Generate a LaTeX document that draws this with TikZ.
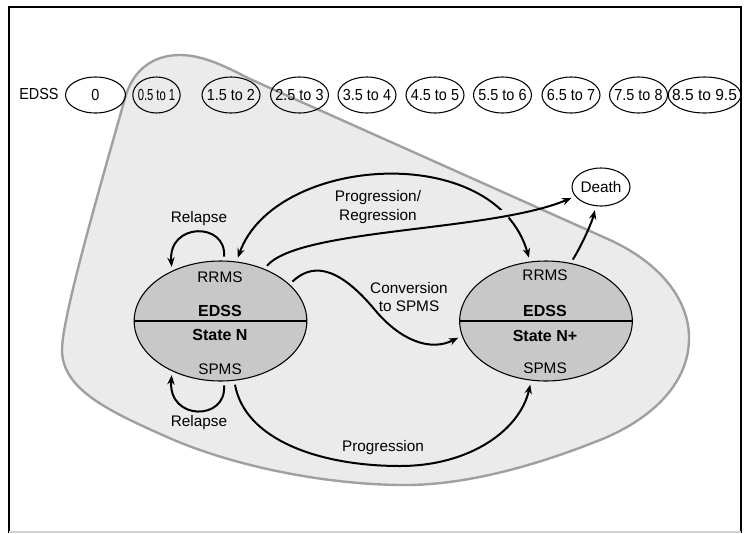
\documentclass[tikz,border=0pt]{standalone}
\usepackage{fontspec}
\usepackage{graphicx}
\setmainfont{Liberation Sans}
\newfontfamily\rowfont[FakeStretch=0.9]{Liberation Sans}
\usetikzlibrary{shapes.geometric,arrows.meta,intersections}
\definecolor{blobfill}{HTML}{EBEBEB}
\definecolor{blobline}{HTML}{A0A0A0}
\definecolor{statefill}{HTML}{C8C8C8}
\newcommand{\zw}[1]{\makebox[0pt]{#1}}
\tikzset{
	>={Stealth[length=7pt,width=5.5pt]},
	edss/.style={ellipse, draw=black, line width=0.8pt, minimum height=27pt, inner sep=0pt, font=\rowfont\fontsize{12}{14}\selectfont},
	state/.style={ellipse, draw=black, line width=0.8pt, fill=statefill, minimum width=129.5pt, minimum height=90pt, inner sep=0pt},
	lbl/.style={font=\fontsize{11.5}{14}\selectfont, align=center},
	bold/.style={font=\bfseries\fontsize{12}{14}\selectfont},
	conn/.style={->, line width=1.5pt, shorten <=3pt, shorten >=3pt},
}
\begin{document}
\begin{tikzpicture}[x=0.75pt, y=-0.75pt]
		\useasboundingbox (0, 0) rectangle (747, 533);
		\draw[line width=1.2pt] (9, 533) -- (9, 7) -- (741, 7) -- (741, 533);
		\draw[gray!35, line width=1pt] (9, 532) -- (741, 532);
		% grey region
		\draw[blobline, line width=1.8pt, fill=blobfill] (125, 98) .. controls (132, 73) and (150, 55) .. (180, 55)
			.. controls (205, 55) and (230, 69) .. (250, 79) -- (610, 240)
			.. controls (660, 263) and (690, 300) .. (689, 340)
			.. controls (688, 385) and (650, 420) .. (600, 440)
			.. controls (530, 468) and (460, 486) .. (400, 485)
			.. controls (320, 484) and (230, 465) .. (167, 437)
			.. controls (111, 412) and (62, 390) .. (62, 350)
			.. controls (62, 315) and (105, 170) .. cycle;
		% EDSS row
		\node[font=\rowfont\fontsize{12}{14}\selectfont] (edsslbl) at (39, 94) {EDSS};
		\node[edss, minimum width=45pt] (e0) at (95.5, 95) {\zw{0}};
		\node[edss, minimum width=35.5pt] (e1) at (156.5, 95) {\zw{\scalebox{0.78}[1]{0.5 to 1}}};
		\node[edss, minimum width=43.5pt] (e2) at (231, 95) {\zw{1.5 to 2}};
		\node[edss, minimum width=43.5pt] (e3) at (299.5, 95) {\zw{2.5 to 3}};
		\node[edss, minimum width=43.5pt] (e4) at (367, 95) {\zw{3.5 to 4}};
		\node[edss, minimum width=43.5pt] (e5) at (435, 95) {\zw{4.5 to 5}};
		\node[edss, minimum width=43.5pt] (e6) at (502.5, 95) {\zw{5.5 to 6}};
		\node[edss, minimum width=43.5pt] (e7) at (571, 95) {\zw{6.5 to 7}};
		\node[edss, minimum width=43.5pt] (e8) at (638.5, 95) {\zw{7.5 to 8}};
		\node[edss, minimum width=54.5pt] (e9) at (704.5, 95) {\zw{\scalebox{1.08}[1]{8.5 to 9.5}}};
		% states
		\node[state] (stN) at (220.5, 321) {};
		\node[state] (stM) at (546, 321) {};
		\draw[line width=0.8pt] (stN.west) -- (stN.east);
		\draw[line width=0.8pt] (stM.west) -- (stM.east);
		\node[lbl] (rrN) at (220, 277) {RRMS};
		\node[bold] (edN) at (220, 311) {EDSS};
		\node[bold] (snN) at (220, 335) {State N};
		\node[lbl] (spN) at (220, 369) {SPMS};
		\node[lbl] (rrM) at (545, 275) {RRMS};
		\node[bold] (edM) at (545, 311) {EDSS};
		\node[bold] (snM) at (545, 336) {State N+};
		\node[lbl] (spM) at (545, 368) {SPMS};
		\node[ellipse, draw=black, line width=0.8pt, minimum width=43.5pt, minimum height=28.5pt, inner sep=0pt, font=\fontsize{11.5}{14}\selectfont] (death) at (601, 187) {Death};
		% transitions
		\draw[conn] (stN.87) .. controls (227, 222) and (168, 222) .. (stN.134);
		\draw[conn] (stN.-87) .. controls (227, 421) and (168, 421) .. (stN.-134);
		\draw[conn, <->, name path=progreg] (stN.75) .. controls (275, 155) and (495, 140) .. (stM.105);
		\path[name path=todeath] (stN.50) .. controls (300, 228) and (490, 232) .. (death.200);
		\fill[blobfill, name intersections={of=progreg and todeath, by=cross}] (cross) circle (6);
		\draw[conn] (stN.50) .. controls (300, 228) and (490, 232) .. (death.200);
		\draw[conn] (stN.28) .. controls (310, 265) and (335, 262) .. (375, 310) .. controls (400, 340) and (430, 352) .. (stM.190);
		\draw[conn] (stM.67) .. controls (582, 245) and (592, 222) .. (death.255);
		\draw[conn] (stN.-77) .. controls (245, 440) and (320, 466) .. (400, 466) .. controls (470, 466) and (520, 430) .. (stM.-104);
		\node[lbl] (relapsetop) at (199, 219) {Relapse};
		\node[lbl] (relapsebot) at (199, 423) {Relapse};
		\node[lbl, font=\fontsize{11.5}{14.25}\selectfont] (progreg) at (378, 207.5) {Progression/\\Regression};
		\node[lbl, font=\fontsize{11.5}{13.5}\selectfont] (conv) at (409, 297) {Conversion\\to SPMS};
		\node[lbl] (prog) at (383, 448) {Progression};
\end{tikzpicture}
\end{document}
